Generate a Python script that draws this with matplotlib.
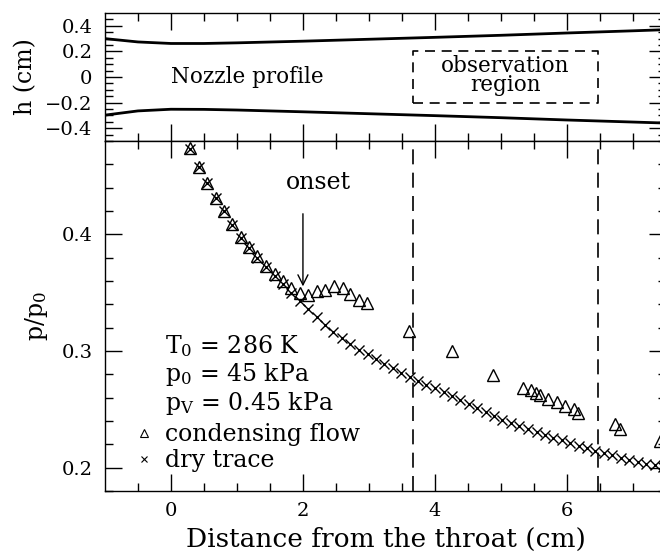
import numpy as np
import matplotlib.pyplot as plt
from matplotlib.lines import Line2D

plt.rcParams['font.family'] = 'DejaVu Serif'
plt.rcParams['mathtext.fontset'] = 'dejavuserif'

# perfil de la tobera (cm)
x_perfil = [-1.0, -0.5, 0.0, 0.5, 1.0, 2.0, 3.0, 4.0, 5.0, 6.0, 7.0, 7.5]
h_sup = [0.300, 0.274, 0.262, 0.262, 0.267, 0.280, 0.295, 0.310, 0.326, 0.344, 0.361, 0.370]
h_inf = [-0.298, -0.265, -0.252, -0.253, -0.258, -0.272, -0.287, -0.302, -0.318, -0.336, -0.352, -0.360]

# traza seca (x)
x_seca = [0.29, 0.42, 0.55, 0.68, 0.80, 0.93, 1.06, 1.19, 1.31, 1.44, 1.57, 1.70,
          1.82, 1.95, 2.08, 2.21, 2.34, 2.46, 2.59, 2.72, 2.85, 2.98, 3.10, 3.23,
          3.36, 3.49, 3.62, 3.74, 3.87, 4.00, 4.13, 4.26, 4.38, 4.51, 4.64, 4.77,
          4.90, 5.02, 5.15, 5.28, 5.41, 5.54, 5.66, 5.79, 5.92, 6.05, 6.18, 6.30,
          6.43, 6.56, 6.69, 6.82, 6.94, 7.07, 7.20, 7.33, 7.46]
p_seca = [0.473, 0.458, 0.444, 0.431, 0.420, 0.408, 0.397, 0.388, 0.380, 0.372, 0.364, 0.357,
          0.350, 0.343, 0.336, 0.329, 0.322, 0.316, 0.311, 0.306, 0.301, 0.297, 0.293, 0.289,
          0.285, 0.281, 0.2775, 0.2745, 0.271, 0.268, 0.2645, 0.261, 0.258, 0.2545, 0.251, 0.2475,
          0.244, 0.241, 0.238, 0.2355, 0.233, 0.2305, 0.228, 0.2255, 0.2235, 0.221, 0.219, 0.2165,
          0.2145, 0.2125, 0.2105, 0.2085, 0.207, 0.205, 0.2035, 0.202, 0.2005]

# flujo con condensacion (triangulos)
x_cond = [0.29, 0.42, 0.55, 0.68, 0.80, 0.93, 1.06, 1.19, 1.31, 1.44, 1.57, 1.70,
          1.82, 1.95, 2.08, 2.21, 2.34, 2.47, 2.60, 2.72, 2.85, 2.97,
          3.61, 4.26, 4.88, 5.33, 5.45, 5.53, 5.59, 5.72, 5.85, 5.97, 6.10, 6.16,
          6.73, 6.80, 7.41]
p_cond = [0.474, 0.458, 0.444, 0.431, 0.420, 0.409, 0.398, 0.389, 0.381, 0.373, 0.366, 0.360,
          0.354, 0.350, 0.348, 0.351, 0.352, 0.356, 0.354, 0.349, 0.344, 0.341,
          0.3175, 0.300, 0.279, 0.268, 0.2662, 0.2637, 0.262, 0.2585, 0.2562, 0.2528, 0.250, 0.2466,
          0.2372, 0.233, 0.2228]

# region de observacion
x_obs = [3.67, 6.47]
h_obs = [-0.2, 0.2]

# condiciones del ensayo
condiciones = [r'$\mathrm{T_0}$ = 286 K', r'$\mathrm{p_0}$ = 45 kPa', r'$\mathrm{p_V}$ = 0.45 kPa']

fig = plt.figure(figsize=(6.6, 5.52), dpi=100)
ax1 = fig.add_axes([0.159, 0.7446, 0.85, 0.2318])
ax2 = fig.add_axes([0.159, 0.1105, 0.85, 0.6341])

fs = 17

# -------------------------------
# panel superior: perfil
# -------------------------------
ax1.plot(x_perfil, h_sup, color='k', lw=2)
ax1.plot(x_perfil, h_inf, color='k', lw=2)
ax1.plot([x_obs[0], x_obs[1], x_obs[1], x_obs[0], x_obs[0]],
         [h_obs[0], h_obs[0], h_obs[1], h_obs[1], h_obs[0]],
         color='k', lw=1.2, ls=(0, (6, 4)))
ax1.text(0.0, 0.0, 'Nozzle profile', fontsize=15.5, va='center', ha='left')
ax1.text(sum(x_obs) / 2, 0.01, 'observation\nregion', fontsize=15.5, va='center', ha='center',
         linespacing=0.8)
ax1.set_xlim(-1, 7.5)
ax1.set_ylim(-0.5, 0.5)
ax1.set_yticks([-0.4, -0.2, 0, 0.2, 0.4])
ax1.set_yticklabels(['\u22120.4', '\u22120.2', '0', '0.2', '0.4'])
ax1.set_yticks(np.arange(-0.45, 0.5, 0.05), minor=True)
ax1.set_ylabel('h (cm)', fontsize=fs, labelpad=6)
ax1.tick_params(labelbottom=False)

# -------------------------------
# panel inferior: presion
# -------------------------------
ax2.plot(x_seca, p_seca, ls='none', marker='x', ms=7, mew=1, color='k')
ax2.plot(x_cond, p_cond, ls='none', marker='^', ms=8.5, mfc='none', mew=1, color='k')
for xv in x_obs:
    ax2.axvline(xv, color='k', lw=1.2, ls=(0, (9, 5)))
ax2.annotate('', xy=(2.0, 0.353), xytext=(2.0, 0.42),
             arrowprops=dict(arrowstyle='->', color='k', lw=1, mutation_scale=18))
ax2.text(2.23, 0.444, 'onset', fontsize=fs, ha='center', va='center')

for i, t in enumerate(condiciones):
    ax2.text(0.107, 0.394 - i * 0.081, t, transform=ax2.transAxes, fontsize=fs,
             ha='left', va='baseline')

h_x = Line2D([], [], ls='none', marker='x', ms=5, mew=0.8, color='k')
h_tri = Line2D([], [], ls='none', marker='^', ms=5.5, mfc='none', mew=0.8, color='k')
ax2.legend([h_tri, h_x], ['condensing flow', 'dry trace'],
           loc='upper left', bbox_to_anchor=(0.053, 0.194), frameon=False, fontsize=fs,
           handlelength=0.8, handletextpad=0.5, labelspacing=0.12, borderaxespad=0.0,
           borderpad=0.0)

ax2.set_xlim(-1, 7.5)
ax2.set_ylim(0.18, 0.48)
ax2.set_yticks([0.2, 0.3, 0.4])
ax2.set_yticks(np.arange(0.18, 0.481, 0.02), minor=True)
ax2.set_xlabel('Distance from the throat (cm)', fontsize=19, labelpad=5)
ax2.set_ylabel(r'p/p$_0$', fontsize=fs, labelpad=8)

for ax in (ax1, ax2):
    ax.set_xticks([0, 2, 4, 6])
    ax.set_xticks(np.arange(-0.5, 7.5, 0.5), minor=True)
    ax.tick_params(which='both', direction='in', top=True, right=True, labelsize=14)
    ax.tick_params(which='major', length=12, width=1)
    ax.tick_params(which='minor', length=6, width=1)
    ax.tick_params(axis='y', which='both', pad=9)
    for s in ax.spines.values():
        s.set_linewidth(1)
ax2.tick_params(axis='x', pad=8)

fig.savefig('out.png', dpi=100)
